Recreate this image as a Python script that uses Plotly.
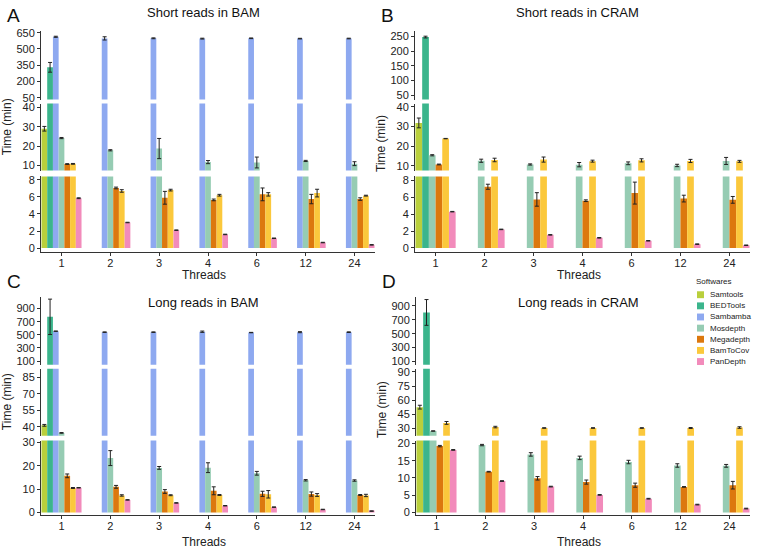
import plotly.graph_objects as go

# Run time (min) of each tool, by number of threads. None = not run.
THREADS = ["1", "2", "3", "4", "6", "12", "24"]
SOFTWARES = ["Samtools", "BEDTools", "Sambamba", "Mosdepth", "Megadepth", "BamToCov", "PanDepth"]
COLORS = ["#b9cf3c", "#3bb58c", "#8ea9f0", "#96ccb3", "#dc780e", "#fbc83c", "#f28bbb"]

# --- Short reads in BAM ---
short_bam = {
    "Samtools": [29.0, None, None, None, None, None, None],
    "BEDTools": [330, None, None, None, None, None, None],
    "Sambamba": [612, 597, 598, 595, 598, 595, 596],
    "Mosdepth": [24.2, 17.9, 18.8, 11.8, 11.6, 12.4, 11.0],
    "Megadepth": [10.8, 7.05, 5.9, 5.65, 6.3, 5.75, 5.75],
    "BamToCov": [10.9, 6.7, 6.8, 6.2, 6.3, 6.45, 6.15],
    "PanDepth": [5.85, 3.0, 2.1, 1.6, 1.15, 0.65, 0.38],
}
short_bam_err = {
    "Samtools": [1.2, 0, 0, 0, 0, 0, 0],
    "BEDTools": [45, 0, 0, 0, 0, 0, 0],
    "Sambamba": [5, 15, 4, 4, 3, 3, 3],
    "Mosdepth": [0.3, 0.3, 5.2, 0.8, 2.8, 0.3, 1.0],
    "Megadepth": [0.2, 0.1, 0.75, 0.1, 0.75, 0.55, 0.15],
    "BamToCov": [0.2, 0.15, 0.1, 0.1, 0.2, 0.45, 0.05],
    "PanDepth": [0.05, 0.03, 0.03, 0.03, 0.03, 0.03, 0.03],
}

# --- Short reads in CRAM ---
short_cram = {
    "Samtools": [31.8, None, None, None, None, None, None],
    "BEDTools": [248, None, None, None, None, None, None],
    "Mosdepth": [15.3, 12.5, 10.6, 10.5, 11.2, 10.1, 12.4],
    "Megadepth": [10.6, 7.25, 5.75, 5.6, 6.5, 5.85, 5.7],
    "BamToCov": [23.8, 12.9, 13.1, 12.3, 12.7, 12.4, 12.2],
    "PanDepth": [4.3, 2.2, 1.55, 1.2, 0.85, 0.45, 0.32],
}
short_cram_err = {
    "Samtools": [2.5, 0, 0, 0, 0, 0, 0],
    "BEDTools": [3, 0, 0, 0, 0, 0, 0],
    "Mosdepth": [0.3, 0.8, 0.3, 1.1, 0.7, 0.6, 1.8],
    "Megadepth": [0.2, 0.3, 0.8, 0.1, 1.3, 0.4, 0.4],
    "BamToCov": [0.1, 0.9, 1.3, 0.5, 0.8, 0.8, 0.5],
    "PanDepth": [0.03, 0.03, 0.03, 0.03, 0.03, 0.03, 0.03],
}

# --- Long reads in BAM ---
long_bam = {
    "Samtools": [41.4, None, None, None, None, None, None],
    "BEDTools": [775, None, None, None, None, None, None],
    "Sambamba": [556, 541, 541, 548, 535, 541, 541],
    "Mosdepth": [34.5, 23.3, 19.1, 19.2, 16.8, 13.8, 13.7],
    "Megadepth": [15.7, 11.0, 9.0, 9.3, 8.0, 7.9, 7.5],
    "BamToCov": [10.5, 7.3, 7.4, 7.5, 7.8, 7.5, 7.3],
    "PanDepth": [10.6, 5.4, 4.1, 2.9, 2.3, 1.3, 0.6],
}
long_bam_err = {
    "Samtools": [0.8, 0, 0, 0, 0, 0, 0],
    "BEDTools": [270, 0, 0, 0, 0, 0, 0],
    "Sambamba": [3, 4, 4, 10, 3, 8, 5],
    "Mosdepth": [0.3, 3.2, 0.6, 2.1, 0.8, 0.3, 0.3],
    "Megadepth": [0.8, 0.6, 0.8, 1.7, 1.1, 0.9, 0.2],
    "BamToCov": [0.2, 0.3, 0.2, 0.2, 1.6, 0.6, 0.5],
    "PanDepth": [0.1, 0.1, 0.1, 0.1, 0.1, 0.1, 0.1],
}

# --- Long reads in CRAM ---
long_cram = {
    "Samtools": [52.6, None, None, None, None, None, None],
    "BEDTools": [805, None, None, None, None, None, None],
    "Mosdepth": [27.3, 19.5, 16.8, 15.8, 14.6, 13.6, 13.5],
    "Megadepth": [19.2, 11.8, 9.9, 8.8, 7.9, 7.4, 7.9],
    "BamToCov": [35.9, 31.5, 30.5, 30.5, 30.5, 30.5, 31.0],
    "PanDepth": [18.1, 9.1, 7.5, 5.1, 4.0, 2.3, 1.15],
}
long_cram_err = {
    "Samtools": [2.0, 0, 0, 0, 0, 0, 0],
    "BEDTools": [185, 0, 0, 0, 0, 0, 0],
    "Mosdepth": [0.2, 0.2, 0.5, 0.5, 0.5, 0.5, 0.4],
    "Megadepth": [0.2, 0.1, 0.5, 0.6, 0.6, 0.1, 1.1],
    "BamToCov": [1.5, 0.8, 0.3, 0.3, 0.3, 0.5, 0.8],
    "PanDepth": [0.1, 0.1, 0.1, 0.1, 0.1, 0.1, 0.1],
}

W, H = 757, 552
FONT = "Arial, Liberation Sans, sans-serif"


def px(x):
    return x / W


def py(y):
    return 1 - y / H


# each panel is split in three stacked segments (broken y axis)
panels = [
    dict(title="Short reads in BAM", letter="A", data=short_bam, err=short_bam_err,
         cols=(41, 375), segs=[(27, 97), (101, 169), (175, 252)], ylab=125,
         ranges=[[32, 669], [7.45, 42], [-0.5, 8.4]],
         ticks=[[50, 200, 350, 500, 650], [10, 20, 30, 40], [0, 2, 4, 6, 8]]),
    dict(title="Short reads in CRAM", letter="B", data=short_cram, err=short_cram_err,
         cols=(415, 750), segs=[(27, 97), (101, 169), (175, 252)], ylab=141,
         ranges=[[35, 270], [7.5, 41.7], [-0.52, 8.47]],
         ticks=[[50, 100, 150, 200, 250], [10, 20, 30, 40], [0, 2, 4, 6, 8]]),
    dict(title="Long reads in BAM", letter="C", data=long_bam, err=long_bam_err,
         cols=(41, 375), segs=[(297, 366), (370, 438), (443, 519)], ylab=404,
         ranges=[[45, 1082], [32, 93], [-1.27, 30.8]],
         ticks=[[100, 300, 500, 700, 900], [40, 55, 70, 85], [0, 10, 20, 30]]),
    dict(title="Long reads in CRAM", letter="D", data=long_cram, err=long_cram_err,
         cols=(416, 750), segs=[(297, 366), (370, 438), (443, 519)], ylab=412,
         ranges=[[55, 1031], [22.4, 93.4], [-0.85, 20.8]],
         ticks=[[100, 300, 500, 700, 900], [30, 45, 60, 75, 90], [0, 5, 10, 15, 20]]),
]

fig = go.Figure()
layout = {}
annotations = []
shapes = []

axis_style = dict(showline=True, linecolor="#333", linewidth=1, ticks="outside",
                  ticklen=3, tickcolor="#333", showgrid=False, zeroline=False,
                  tickfont=dict(size=11, color="#222", family=FONT))

for p, panel in enumerate(panels):
    xi = p + 1
    xname = "x" if xi == 1 else "x%d" % xi
    bottom_y = p * 3 + 3
    layout["xaxis" if xi == 1 else "xaxis%d" % xi] = dict(
        axis_style, type="category", categoryorder="array", categoryarray=THREADS,
        domain=[px(panel["cols"][0]), px(panel["cols"][1])], range=[-0.42, 6.42],
        anchor="y%d" % bottom_y, ticklabelstandoff=-3)

    for s in range(3):
        yi = p * 3 + s + 1
        yname = "y" if yi == 1 else "y%d" % yi
        top, bot = panel["segs"][s]
        lo, hi = panel["ranges"][s]
        layout["yaxis" if yi == 1 else "yaxis%d" % yi] = dict(
            axis_style, domain=[py(bot), py(top)], range=[lo, hi],
            tickvals=panel["ticks"][s], anchor=xname)

        for name, vals in panel["data"].items():
            color = COLORS[SOFTWARES.index(name)]
            # keep only the bars that reach into this segment; error bars only where the tip is inside
            seg_vals = [v if (v is not None and v > lo) else None for v in vals]
            seg_err = [e if (v is not None and lo < v < hi) else None
                       for v, e in zip(vals, panel["err"][name])]
            fig.add_trace(go.Bar(
                x=THREADS, y=seg_vals, name=name, marker=dict(color=color, line=dict(width=0)),
                error_y=dict(type="data", array=seg_err, visible=True,
                             color="#222", thickness=1, width=2),
                xaxis=xname, yaxis=yname, showlegend=False, legendgroup=name))

    left, right = panel["cols"]
    mid = (left + right) / 2
    top_px = panel["segs"][0][0]
    bottom_px = panel["segs"][2][1]
    title_y = 9 if p < 2 else 303
    annotations.append(dict(text=panel["title"], x=px(mid - 5), y=py(title_y), xref="paper", yref="paper",
                            showarrow=False, font=dict(size=13, color="#111", family=FONT),
                            xanchor="center", yanchor="middle"))
    annotations.append(dict(text=panel["letter"], x=px(left - 36), y=py(top_px - 15), xref="paper", yref="paper",
                            showarrow=False, font=dict(size=19, color="#111", family=FONT),
                            xanchor="left", yanchor="middle"))
    annotations.append(dict(text="Threads", x=px(mid - 4), y=py(bottom_px + (23 if p < 2 else 27)),
                            xref="paper", yref="paper",
                            showarrow=False, font=dict(size=12, color="#222", family=FONT),
                            xanchor="center", yanchor="middle"))
    annotations.append(dict(text="Time (min)", x=px(left - 34), y=py(panel["ylab"]),
                            xref="paper", yref="paper", textangle=-90,
                            showarrow=False, font=dict(size=12, color="#222", family=FONT),
                            xanchor="center", yanchor="middle"))

# legend drawn as small squares with labels
annotations.append(dict(text="Softwares", x=px(694), y=py(282), xref="paper", yref="paper",
                        showarrow=False, font=dict(size=8, color="#222", family=FONT),
                        xanchor="left", yanchor="middle"))
for i, (name, color) in enumerate(zip(SOFTWARES, COLORS)):
    yc = 295 + 11.3 * i
    shapes.append(dict(type="rect", xref="paper", yref="paper", x0=px(697), x1=px(704),
                       y0=py(yc + 3.5), y1=py(yc - 3.5), fillcolor=color, line=dict(width=0)))
    annotations.append(dict(text=name, x=px(708), y=py(yc), xref="paper", yref="paper",
                            showarrow=False, font=dict(size=8, color="#222", family=FONT),
                            xanchor="left", yanchor="middle"))

fig.update_layout(
    **layout,
    width=W, height=H,
    margin=dict(l=0, r=0, t=0, b=0),
    barmode="group", bargap=0.18, bargroupgap=0,
    plot_bgcolor="white", paper_bgcolor="white",
    showlegend=False,
    annotations=annotations, shapes=shapes,
    font=dict(family=FONT),
)

# the page body has a default 8px margin; drop it so the figure fills the window
fig.write_html("out.html", config={"displayModeBar": False},
               post_script="document.body.style.margin='0';")
